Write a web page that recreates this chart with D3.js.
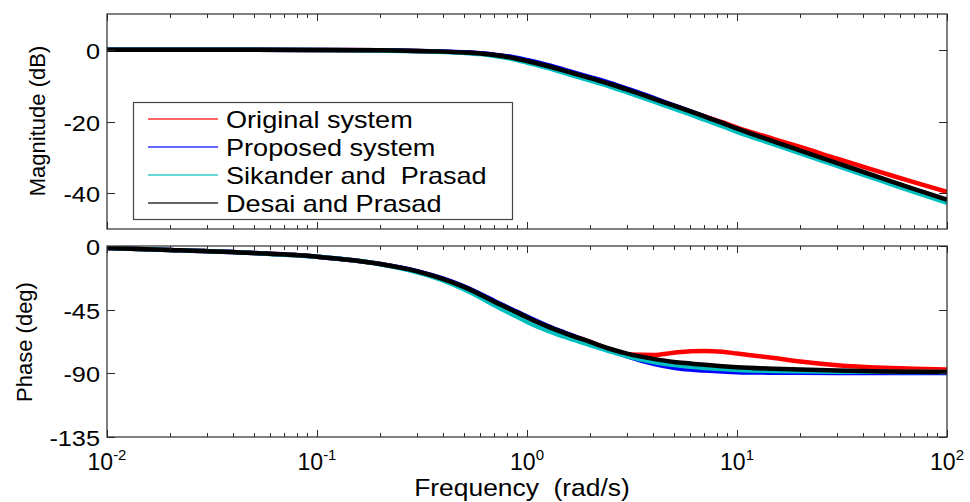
<!DOCTYPE html>
<html>
<head>
<meta charset="utf-8">
<script src="https://cdn.jsdelivr.net/npm/d3@7"></script>
<style>
html,body{margin:0;padding:0;background:#fff;}
svg{display:block;font-family:"Liberation Sans",Arial,Helvetica,sans-serif;}
text{white-space:pre;}
</style>
</head>
<body>
<svg id="chart" width="970" height="502"></svg>
<script>
// ---------------- DATA ----------------
const freq = [0.01,0.02,0.05,0.1,0.2,0.3,0.4,0.5,0.6,0.7,0.85,1,1.25,1.5,2,2.5,3,4,5,6,7,8.5,10,15,20,30,50,70,100];

const magOriginal = [0,0,0,-0.04,-0.15,-0.3,-0.5,-0.75,-1.05,-1.45,-2.2,-3.1,-4.5,-5.8,-7.9,-9.6,-11.1,-13.6,-15.6,-17.2,-18.55,-20.2,-21.7,-24.9,-27.1,-30.4,-34.4,-37.0,-39.6];
const magProposed = [0,0,0,-0.04,-0.15,-0.3,-0.48,-0.7,-0.98,-1.35,-2.0,-2.85,-4.2,-5.5,-7.6,-9.3,-10.85,-13.4,-15.5,-17.15,-18.65,-20.5,-22.15,-25.8,-28.3,-31.9,-36.3,-39.2,-42.2];
const magSikander = [0,0,0,-0.05,-0.2,-0.4,-0.6,-0.85,-1.2,-1.7,-2.55,-3.55,-5.0,-6.4,-8.6,-10.3,-11.85,-14.4,-16.4,-18.0,-19.5,-21.3,-22.9,-26.4,-28.9,-32.4,-36.8,-39.7,-42.7];
const magDesai    = [0,0,0,-0.04,-0.15,-0.3,-0.5,-0.75,-1.05,-1.45,-2.2,-3.1,-4.5,-5.8,-7.9,-9.6,-11.1,-13.6,-15.6,-17.2,-18.6,-20.4,-22.0,-25.6,-28.1,-31.6,-36.0,-38.9,-41.8];

const phOriginal = [-1.5,-2.8,-5,-7.6,-12.8,-18,-23.5,-29,-34.5,-39.5,-45.5,-50.5,-57,-61.5,-68,-73.4,-76.9,-77.2,-75.6,-74.6,-74.4,-74.9,-76.2,-79.4,-81.9,-84.5,-86.3,-87,-87.5];
const phProposed = [-1.5,-2.8,-5,-7.6,-12.7,-17.8,-23.2,-28.6,-34,-39,-45,-50,-56.5,-61.2,-68.2,-74,-78.2,-83.5,-86.3,-87.6,-88.3,-89,-89.4,-89.8,-89.9,-90,-90,-90,-90];
const phSikander = [-1.5,-2.8,-5,-7.6,-12.9,-18.6,-24.5,-30.6,-36.5,-42,-48.5,-53.8,-60,-64.3,-70.2,-74.8,-78.2,-82.2,-84.4,-85.6,-86.4,-87.2,-87.8,-88.5,-88.8,-89.1,-89.2,-89.3,-89.3];
const phDesai    = [-1.5,-2.8,-5,-7.6,-12.8,-18,-23.5,-29,-34.5,-39.5,-45.5,-50.5,-57,-61.5,-68,-73,-76.3,-80,-82.2,-83.3,-84.2,-85.2,-85.9,-87,-87.6,-88.3,-88.9,-89.1,-89.3];

const seriesNames  = ["Original system","Proposed system","Sikander and  Prasad","Desai and Prasad"];
const seriesColors = ["#ff0000","#0000ff","#00bfbf","#000000"];
const magSeries = [magOriginal, magProposed, magSikander, magDesai];
const phSeries  = [phOriginal, phProposed, phSikander, phDesai];

const xMajor = [0.01,0.1,1,10,100];
const xExp   = ["-2","-1","0","1","2"];
const magTicks = [-40,-20,0];
const phTicks  = [-135,-90,-45,0];

// ---------------- LAYOUT ----------------
const svg = d3.select("#chart");
const L = 107, R = 947;
const top1 = 14, bot1 = 229;
const top2 = 246, bot2 = 437;

const x = d3.scaleLog().domain([0.01,100]).range([L,R]);
const yMag = d3.scaleLinear().domain([-50,10]).range([bot1, top1]);
const yPh  = d3.scaleLinear().domain([-135,0]).range([bot2-0.5, top2]);

const axisColor = "#2a2a2a";
const sx = 1.15;

function hText(g, tx, ty, str, size, anchor, scaleX){
  return g.append("text")
    .attr("transform", `translate(${tx},${ty}) scale(${scaleX||sx},1)`)
    .attr("text-anchor", anchor||"start")
    .attr("font-size", size)
    .attr("fill", "#000")
    .text(str);
}

const minor = [];
for (let e=-2; e<2; e++) for (let k=2; k<=9; k++) minor.push(k*Math.pow(10,e));

function drawPanel(yScale, top, bot, yTicks, series, drawXLabels){
  const g = svg.append("g");
  const clipId = "clip"+top;
  svg.append("clipPath").attr("id", clipId).append("rect")
     .attr("x", L).attr("y", top).attr("width", R-L).attr("height", bot-top);
  const cg = g.append("g").attr("clip-path", `url(#${clipId})`);
  const line = d3.line()
     .x(d=>x(d[0])).y(d=>yScale(d[1]))
     .curve(d3.curveMonotoneX);
  series.forEach((vals,i)=>{
    cg.append("path")
      .datum(freq.map((f,j)=>[f, vals[j]]))
      .attr("d", line)
      .attr("fill","none")
      .attr("stroke", seriesColors[i])
      .attr("stroke-width", 4.5)
      .attr("stroke-linejoin","round")
      .attr("stroke-linecap","butt");
  });
  g.append("rect").attr("x",L).attr("y",top).attr("width",R-L).attr("height",bot-top)
   .attr("fill","none").attr("stroke",axisColor).attr("stroke-width",1.2);
  xMajor.forEach(v=>{
    const px = Math.round(x(v))+0.5;
    g.append("line").attr("x1",px).attr("x2",px).attr("y1",bot).attr("y2",bot-7).attr("stroke",axisColor);
    g.append("line").attr("x1",px).attr("x2",px).attr("y1",top).attr("y2",top+7).attr("stroke",axisColor);
  });
  minor.forEach(v=>{
    const px = Math.round(x(v))+0.5;
    g.append("line").attr("x1",px).attr("x2",px).attr("y1",bot).attr("y2",bot-4).attr("stroke",axisColor);
    g.append("line").attr("x1",px).attr("x2",px).attr("y1",top).attr("y2",top+4).attr("stroke",axisColor);
  });
  yTicks.forEach(v=>{
    const py = Math.round(yScale(v))+0.5;
    g.append("line").attr("x1",L).attr("x2",L+8).attr("y1",py).attr("y2",py).attr("stroke",axisColor);
    g.append("line").attr("x1",R).attr("x2",R-8).attr("y1",py).attr("y2",py).attr("stroke",axisColor);
    hText(g, 100, py+8, String(v), 22, "end");
  });
  if (drawXLabels){
    xMajor.forEach((v,i)=>{
      const t = g.append("text")
        .attr("transform", `translate(${x(v)},470)`)
        .attr("text-anchor","middle")
        .attr("fill","#000");
      t.append("tspan").attr("font-size",23).text("10");
      t.append("tspan").attr("font-size",15).attr("dy",-10).text(xExp[i]);
    });
  }
  return g;
}

drawPanel(yMag, top1, bot1, magTicks, magSeries, false);
drawPanel(yPh, top2, bot2, phTicks, phSeries, true);

// axis titles
svg.append("text")
  .attr("transform","translate(45,121) rotate(-90)")
  .attr("text-anchor","middle").attr("font-size",22).text("Magnitude (dB)");
svg.append("text")
  .attr("transform","translate(32,342) rotate(-90)")
  .attr("text-anchor","middle").attr("font-size",22).text("Phase (deg)");
hText(svg, 522, 496, "Frequency  (rad/s)", 24, "middle", 1.1);

// legend
const lg = svg.append("g");
lg.append("rect").attr("x",133.5).attr("y",102.5).attr("width",379).attr("height",117)
  .attr("fill","#fff").attr("stroke","#444").attr("stroke-width",1.2);
seriesNames.forEach((n,i)=>{
  const yy = 119 + i*28;
  lg.append("line").attr("x1",148).attr("x2",218).attr("y1",yy).attr("y2",yy)
    .attr("stroke",seriesColors[i]).attr("stroke-width",1.3).attr("opacity",0.8);
  hText(lg, 226, yy+9, n, 24, "start", 1.13);
});
</script>
</body>
</html>
